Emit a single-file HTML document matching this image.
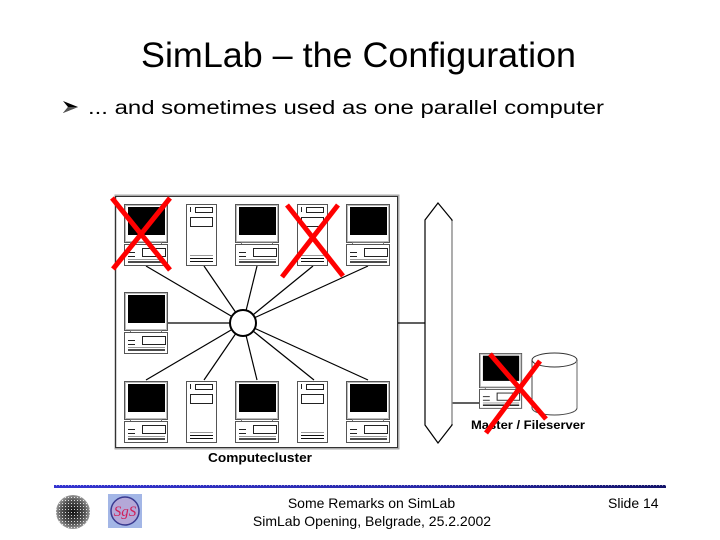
<!DOCTYPE html>
<html><head><meta charset="utf-8"><style>
html,body{margin:0;padding:0;background:#fff;}
svg{display:block;}
</style></head><body>
<svg width="720" height="540" viewBox="0 0 720 540" xmlns="http://www.w3.org/2000/svg">
<defs>
  <g id="ws">
    <rect x="0.5" y="0.5" width="43" height="38" fill="#fff" stroke="#555" stroke-width="1"/>
    <rect x="1.5" y="1.5" width="41" height="36" fill="none" stroke="#bbb" stroke-width="1"/>
    <rect x="4" y="3" width="37" height="28" fill="#000"/>
    <rect x="6.5" y="38.5" width="31" height="2" fill="#fff" stroke="#777" stroke-width="1"/>
    <rect x="0.5" y="40.5" width="43" height="21" fill="#fff" stroke="#555" stroke-width="1"/>
    <line x1="4" y1="48.5" x2="11" y2="48.5" stroke="#222" stroke-width="1"/>
    <line x1="4" y1="52.5" x2="11" y2="52.5" stroke="#222" stroke-width="1"/>
    <rect x="18.5" y="44.5" width="23" height="8" fill="#fff" stroke="#222" stroke-width="1"/>
    <line x1="4" y1="55.5" x2="41" y2="55.5" stroke="#999" stroke-width="1"/>
    <line x1="4" y1="58" x2="41" y2="58" stroke="#111" stroke-width="1.5"/>
  </g>
  <g id="tw">
    <rect x="0.5" y="0.5" width="30" height="61" fill="#fff" stroke="#555" stroke-width="1"/>
    <line x1="4.5" y1="3" x2="4.5" y2="8" stroke="#222" stroke-width="1"/>
    <rect x="9.5" y="3.5" width="17" height="5" fill="#fff" stroke="#222" stroke-width="1"/>
    <rect x="4.5" y="13.5" width="22" height="9" fill="#fff" stroke="#222" stroke-width="1"/>
    <line x1="4" y1="51.5" x2="27" y2="51.5" stroke="#999" stroke-width="1"/>
    <line x1="4" y1="54.5" x2="27" y2="54.5" stroke="#111" stroke-width="1"/>
    <line x1="4" y1="57.5" x2="27" y2="57.5" stroke="#111" stroke-width="1"/>
  </g>
  <linearGradient id="bl" x1="0" x2="1" y1="0" y2="0">
    <stop offset="0" stop-color="#3434d0"/>
    <stop offset="0.6" stop-color="#2a2aa8"/>
    <stop offset="1" stop-color="#14146a"/>
  </linearGradient>
  <radialGradient id="lg1" cx="0.5" cy="0.5" r="0.5">
    <stop offset="0" stop-color="#111"/>
    <stop offset="0.7" stop-color="#555"/>
    <stop offset="1" stop-color="#999"/>
  </radialGradient>
  <pattern id="dots" width="3" height="3" patternUnits="userSpaceOnUse">
    <rect width="3" height="3" fill="none"/>
    <rect x="2" y="2" width="1" height="1" fill="#fff"/>
  </pattern>
</defs>

<!-- Title -->
<text x="141" y="67" font-family="Liberation Sans, Arial, sans-serif" font-size="35" textLength="435" lengthAdjust="spacingAndGlyphs" fill="#000">SimLab – the Configuration</text>

<!-- Bullet -->
<polygon points="63,101 78,107 63,113 68,107" fill="#000"/>
<polygon points="68,107 78,107 63,113" fill="#555"/>
<text x="88" y="114" font-family="Liberation Sans, Arial, sans-serif" font-size="19" textLength="516" lengthAdjust="spacingAndGlyphs" fill="#000">... and sometimes used as one parallel computer</text>

<!-- Cluster box -->
<rect x="115.5" y="195.5" width="283" height="253" fill="#fff" stroke="#aaa" stroke-width="2"/>
<rect x="115.5" y="196.5" width="282" height="251" fill="none" stroke="#333" stroke-width="1"/>

<!-- connectors in cluster -->
<g stroke="#000" stroke-width="1.2">
  <line x1="243" y1="323" x2="146" y2="266"/>
  <line x1="243" y1="323" x2="204" y2="266"/>
  <line x1="243" y1="323" x2="257" y2="266"/>
  <line x1="243" y1="323" x2="313" y2="266"/>
  <line x1="243" y1="323" x2="368" y2="266"/>
  <line x1="243" y1="323" x2="168" y2="323"/>
  <line x1="243" y1="323" x2="146" y2="380"/>
  <line x1="243" y1="323" x2="204" y2="380"/>
  <line x1="243" y1="323" x2="257" y2="380"/>
  <line x1="243" y1="323" x2="314" y2="380"/>
  <line x1="243" y1="323" x2="368" y2="380"/>
  <line x1="398" y1="323" x2="425" y2="323"/>
  <line x1="452" y1="403" x2="480" y2="403"/>
</g>
<circle cx="243" cy="323" r="13" fill="#fff" stroke="#000" stroke-width="2"/>

<!-- Top row -->
<use href="#ws" x="124" y="204"/>
<use href="#tw" x="186" y="204"/>
<use href="#ws" x="235" y="204"/>
<use href="#tw" x="297" y="204"/>
<use href="#ws" x="346" y="204"/>
<!-- middle -->
<use href="#ws" x="124" y="292"/>
<!-- bottom row -->
<use href="#ws" x="124" y="381"/>
<use href="#tw" x="186" y="381"/>
<use href="#ws" x="235" y="381"/>
<use href="#tw" x="297" y="381"/>
<use href="#ws" x="346" y="381"/>

<text x="208" y="462" font-family="Liberation Sans, Arial, sans-serif" font-size="13" font-weight="bold" textLength="104" lengthAdjust="spacingAndGlyphs" fill="#000">Computecluster</text>

<!-- Bus -->
<polygon points="438,203 452,220 452,425 438,443 425,425 425,220" fill="#fff" stroke="#000" stroke-width="1.2"/>
<line x1="452" y1="221" x2="452" y2="424" stroke="#999" stroke-width="1.2"/>

<!-- Master -->
<g transform="translate(479,353) scale(0.98,0.9)"><use href="#ws"/></g>
<!-- cylinder -->
<path d="M532,360 L532,408 A22.5,7 0 0 0 577,408 L577,360" fill="#fff" stroke="#444" stroke-width="1"/>
<ellipse cx="554.5" cy="360" rx="22.5" ry="7" fill="#fff" stroke="#333" stroke-width="1"/>
<line x1="577" y1="361" x2="577" y2="408" stroke="#999" stroke-width="1.5"/>

<text x="471" y="429" font-family="Liberation Sans, Arial, sans-serif" font-size="12" font-weight="bold" textLength="114" lengthAdjust="spacingAndGlyphs" fill="#000">Master / Fileserver</text>

<!-- red X marks -->
<g stroke="#ff0000" stroke-width="5" stroke-linecap="butt">
  <line x1="112" y1="198" x2="170" y2="270"/>
  <line x1="170" y1="198" x2="113" y2="269"/>
  <line x1="287" y1="205" x2="343" y2="276"/>
  <line x1="338" y1="205" x2="282" y2="277"/>
  <line x1="490" y1="354" x2="546" y2="419"/>
  <line x1="540" y1="361" x2="486" y2="433"/>
</g>

<!-- footer line -->
<rect x="54" y="485" width="612" height="3" fill="url(#bl)"/>
<rect x="54" y="485" width="612" height="3" fill="url(#dots)" opacity="0.5"/>

<!-- logos -->
<circle cx="73" cy="512" r="17" fill="url(#lg1)"/>
<circle cx="73" cy="512" r="17" fill="url(#dots)" opacity="0.8"/>
<rect x="108" y="494" width="34" height="34" fill="#a3b6e6"/>
<circle cx="125" cy="511" r="14" fill="#b4a8d8" stroke="#3a3a90" stroke-width="1.5"/>
<text x="125" y="516" text-anchor="middle" font-family="Liberation Serif, serif" font-size="15" font-style="italic" fill="#d0205a">SgS</text>

<!-- footer text -->
<text x="371.5" y="508" text-anchor="middle" font-family="Liberation Sans, Arial, sans-serif" font-size="14" fill="#000">Some Remarks on SimLab</text>
<text x="372" y="526" text-anchor="middle" font-family="Liberation Sans, Arial, sans-serif" font-size="14" fill="#000">SimLab Opening, Belgrade, 25.2.2002</text>
<text x="608" y="508" font-family="Liberation Sans, Arial, sans-serif" font-size="14" fill="#000">Slide 14</text>
</svg>
</body></html>
